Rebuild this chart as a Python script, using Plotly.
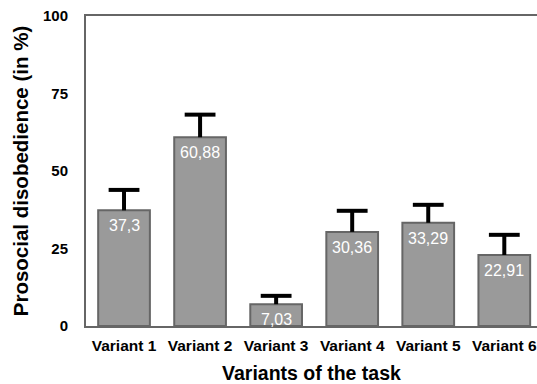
import plotly.graph_objects as go

categories = ["Variant 1", "Variant 2", "Variant 3", "Variant 4", "Variant 5", "Variant 6"]
values = [37.3, 60.88, 7.03, 30.36, 33.29, 22.91]
errors = [6.6, 7.3, 2.7, 6.8, 5.8, 6.5]
labels = ["37,3", "60,88", "7,03", "30,36", "33,29", "22,91"]
y_ticks = [0, 25, 50, 75, 100]

FONT = "Liberation Sans, Arial, Helvetica, sans-serif"

fig = go.Figure()
fig.add_trace(go.Bar(
    x=categories, y=values,
    marker=dict(color="#9a9a9a", line=dict(color="#666666", width=2)),
    hoverinfo="y",
))

# error bar stems (upper only)
stem_x, stem_y = [], []
for c, v, e in zip(categories, values, errors):
    stem_x += [c, c, None]
    stem_y += [v, v + e, None]
fig.add_trace(go.Scatter(
    x=stem_x, y=stem_y, mode="lines",
    line=dict(color="black", width=4), hoverinfo="skip", cliponaxis=False,
))
# caps
fig.add_trace(go.Scatter(
    x=categories, y=[v + e for v, e in zip(values, errors)], mode="markers",
    marker=dict(symbol="line-ew", size=22, line=dict(color="black", width=4)),
    hoverinfo="skip", cliponaxis=False,
))

for c, v, t in zip(categories, values, labels):
    fig.add_annotation(
        x=c, y=v, text=t, showarrow=False, yanchor="top", yshift=-5,
        font=dict(color="white", size=16, family=FONT),
    )

fig.update_layout(
    width=537, height=384,
    margin=dict(l=86, r=0, t=16, b=58),
    paper_bgcolor="white", plot_bgcolor="white",
    bargap=0.32, showlegend=False,
    font=dict(family=FONT, color="black"),
)
fig.update_xaxes(
    type="category", categoryorder="array", categoryarray=categories,
    range=[-0.5, 5.43], showline=True, linecolor="#666666", linewidth=2, mirror=True,
    ticks="", ticklabelstandoff=4, tickfont=dict(size=15.5, family=FONT, weight="bold"),
    title=dict(text="<b>Variants of the task</b>", font=dict(size=19.5), standoff=15),
    showgrid=False, automargin=False,
)
fig.update_yaxes(
    range=[0, 100], tickvals=y_ticks, showline=True, linecolor="#666666", linewidth=2,
    ticks="", ticklabelstandoff=13, tickfont=dict(size=15, family=FONT, weight="bold"),
    title=dict(text="<b>Prosocial disobedience (in %)</b>", font=dict(size=20.5), standoff=9),
    showgrid=False, zeroline=False, automargin=False,
)

fig.write_html(
    "out.html",
    config={"displayModeBar": False},
    post_script="document.body.style.margin='0';document.body.style.overflow='hidden';",
)
